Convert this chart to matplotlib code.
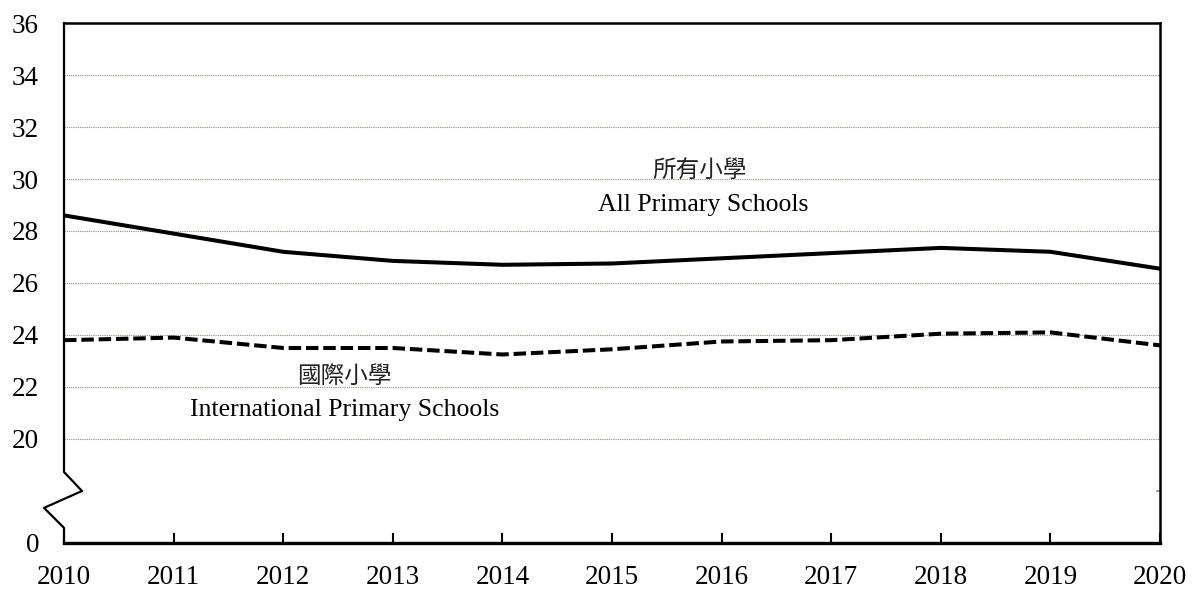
import numpy as np
import matplotlib
matplotlib.use("Agg")
import matplotlib.pyplot as plt
import matplotlib.transforms as mtransforms

# data
years = [2010, 2011, 2012, 2013, 2014, 2015, 2016, 2017, 2018, 2019, 2020]
all_primary = [28.6, 27.9, 27.2, 26.85, 26.7, 26.75, 26.95, 27.15, 27.35, 27.2, 26.55]
intl_primary = [23.8, 23.9, 23.5, 23.5, 23.25, 23.45, 23.75, 23.8, 24.05, 24.1, 23.6]

y_ticks = [16, 20, 22, 24, 26, 28, 30, 32, 34, 36]
y_labels = ["0", "20", "22", "24", "26", "28", "30", "32", "34", "36"]
grid_vals = [20, 22, 24, 26, 28, 30, 32, 34]

label_all = ("所有小學", "All Primary Schools")
label_intl = ("國際小學", "International Primary Schools")

plt.rcParams['font.family'] = ['Liberation Serif', 'Noto Sans CJK TC']
cjk = ['Noto Sans CJK TC', 'Liberation Serif']

fig = plt.figure(figsize=(11.92, 5.90), dpi=100)
ax = fig.add_axes([0.0537, 0.0797, 0.9195, 0.8813])

# gridlines
for g in grid_vals:
    ax.axhline(g, color='#8c8c80', lw=0.8, ls=(0, (1, 1)), zorder=1)

ax.plot(years, all_primary, color='black', lw=2.9, solid_joinstyle='round', zorder=3)
ax.plot(years, intl_primary, color='black', lw=2.9, dashes=(3.1, 1.2),
        dash_capstyle='butt', zorder=3)

ax.set_xlim(2010, 2020)
ax.set_ylim(16, 36)
ax.set_xticks(years)
ax.set_xticklabels([str(y) for y in years])
ax.set_yticks(y_ticks)
ax.set_yticklabels(y_labels)
ax.tick_params(axis='x', direction='in', length=7, width=1.5, pad=16, labelsize=19.5)
ax.tick_params(axis='y', direction='in', length=0, width=1.2, pad=18, labelsize=19.5)

for s in ['top', 'right', 'bottom']:
    ax.spines[s].set_linewidth(1.8)
ax.spines['bottom'].set_linewidth(2.4)
ax.spines['left'].set_visible(False)

# left axis with break mark
trans = mtransforms.blended_transform_factory(ax.transAxes, ax.transData)
bx = [0, 0, 0.0164, -0.0182, 0, 0]
by = [36, 18.73, 18.0, 17.35, 16.58, 16]
ax.plot(bx, by, color='black', lw=1.6, transform=trans, clip_on=False, zorder=5)
# small tick on right at 18
ax.plot([0.997, 1.0], [18, 18], color='#8c8c80', lw=1.2, transform=trans, clip_on=False)

# labels
ax.text(2015.8, 30.3, label_all[0], ha='center', va='center', fontsize=17,
        family=cjk, color='#222222')
ax.text(2015.83, 29.0, label_all[1], ha='center', va='center', fontsize=18.5)
ax.text(2012.56, 22.4, label_intl[0], ha='center', va='center', fontsize=17,
        family=cjk, color='#222222')
ax.text(2012.56, 21.1, label_intl[1], ha='center', va='center', fontsize=18.5)

fig.savefig("out.png", dpi=100)
